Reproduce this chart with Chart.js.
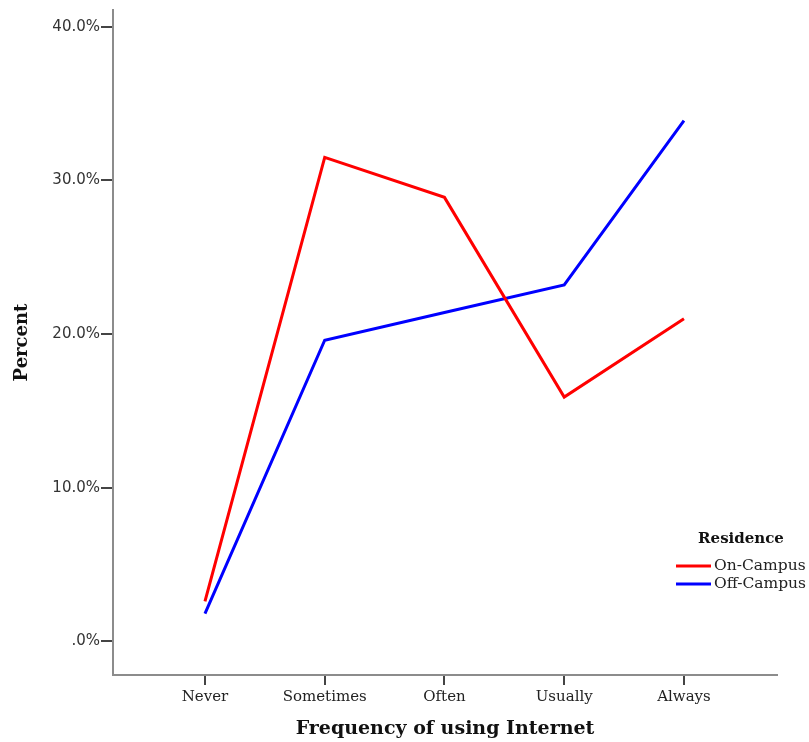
<!DOCTYPE html>
<html>
<head>
<meta charset="utf-8">
<script src="https://cdn.jsdelivr.net/npm/chart.js@4/dist/chart.umd.min.js"></script>
<style>
  body { margin: 0; background: #fff; }
  #wrap { width: 809px; height: 742px; position: relative; }
</style>
</head>
<body>
<div id="wrap"><canvas id="chart"></canvas></div>
<script>
// chart data
const categories = ['Never', 'Sometimes', 'Often', 'Usually', 'Always'];
const onCampus = [2.6, 31.5, 28.9, 15.9, 21.0];
const offCampus = [1.8, 19.6, 21.4, 23.2, 33.9];
const yTicks = [0, 10, 20, 30, 40];
const legendTitle = 'Residence';

function toPoints(values) {
    return values.map((v, i) => ({ x: i, y: v }));
}

// legend drawn inside the plot, bottom right
const insideLegend = {
    id: 'insideLegend',
    afterDraw(chart) {
        const ctx = chart.ctx;
        ctx.save();
        ctx.textBaseline = 'middle';
        ctx.fillStyle = '#111';
        ctx.font = 'bold 15px "DejaVu Serif"';
        ctx.textAlign = 'center';
        ctx.fillText(legendTitle, 741, 539);
        ctx.font = '15.5px "DejaVu Serif"';
        ctx.textAlign = 'left';
        chart.data.datasets.forEach((ds, i) => {
            const y = 566 + i * 18;
            ctx.strokeStyle = ds.borderColor;
            ctx.lineWidth = 3;
            ctx.beginPath();
            ctx.moveTo(676, y);
            ctx.lineTo(711, y);
            ctx.stroke();
            ctx.fillStyle = '#222';
            ctx.fillText(ds.label, 714, y);
        });
        ctx.restore();
    }
};

const ctx = document.getElementById('chart').getContext('2d');
new Chart(ctx, {
    type: 'line',
    data: {
        datasets: [{
            label: 'On-Campus',
            data: toPoints(onCampus),
            borderColor: '#ff0000',
            borderWidth: 3,
            pointRadius: 0,
            tension: 0
        }, {
            label: 'Off-Campus',
            data: toPoints(offCampus),
            borderColor: '#0000ff',
            borderWidth: 3,
            pointRadius: 0,
            tension: 0
        }]
    },
    options: {
        responsive: true,
        maintainAspectRatio: false,
        animation: false,
        layout: { padding: { top: 9, right: 32, left: 0, bottom: 0 } },
        plugins: {
            legend: { display: false },
            tooltip: { enabled: false }
        },
        scales: {
            x: {
                type: 'linear',
                min: -0.768,
                max: 4.777,
                afterBuildTicks: scale => {
                    scale.ticks = categories.map((c, i) => ({ value: i }));
                },
                afterFit: scale => { scale.height = 67; },
                ticks: {
                    autoSkip: false,
                    maxRotation: 0,
                    padding: 3,
                    color: '#222',
                    font: { family: 'DejaVu Serif', size: 15 },
                    callback: v => categories[v]
                },
                grid: { drawOnChartArea: false, tickLength: 10, color: '#444', lineWidth: 2 },
                border: { display: true, color: '#8c8c8c', width: 2 },
                title: {
                    display: true,
                    text: 'Frequency of using Internet',
                    color: '#111',
                    font: { family: 'DejaVu Serif', size: 19, weight: 'bold' },
                    padding: { top: 0, bottom: 2 }
                }
            },
            y: {
                min: -2.2,
                max: 41.1,
                afterBuildTicks: scale => {
                    scale.ticks = yTicks.map(v => ({ value: v }));
                },
                afterFit: scale => { scale.width = 113; },
                ticks: {
                    padding: 1,
                    color: '#333',
                    font: { family: 'DejaVu Sans', size: 15 },
                    callback: v => v === 0 ? '.0%' : v.toFixed(1) + '%'
                },
                grid: { drawOnChartArea: false, tickLength: 12, color: '#444', lineWidth: 2 },
                border: { display: true, color: '#8c8c8c', width: 2 },
                title: {
                    display: true,
                    text: 'Percent',
                    color: '#111',
                    font: { family: 'DejaVu Serif', size: 18, weight: 'bold' },
                    padding: { top: 12, bottom: 0 }
                }
            }
        }
    },
    plugins: [insideLegend]
});
</script>
</body>
</html>
